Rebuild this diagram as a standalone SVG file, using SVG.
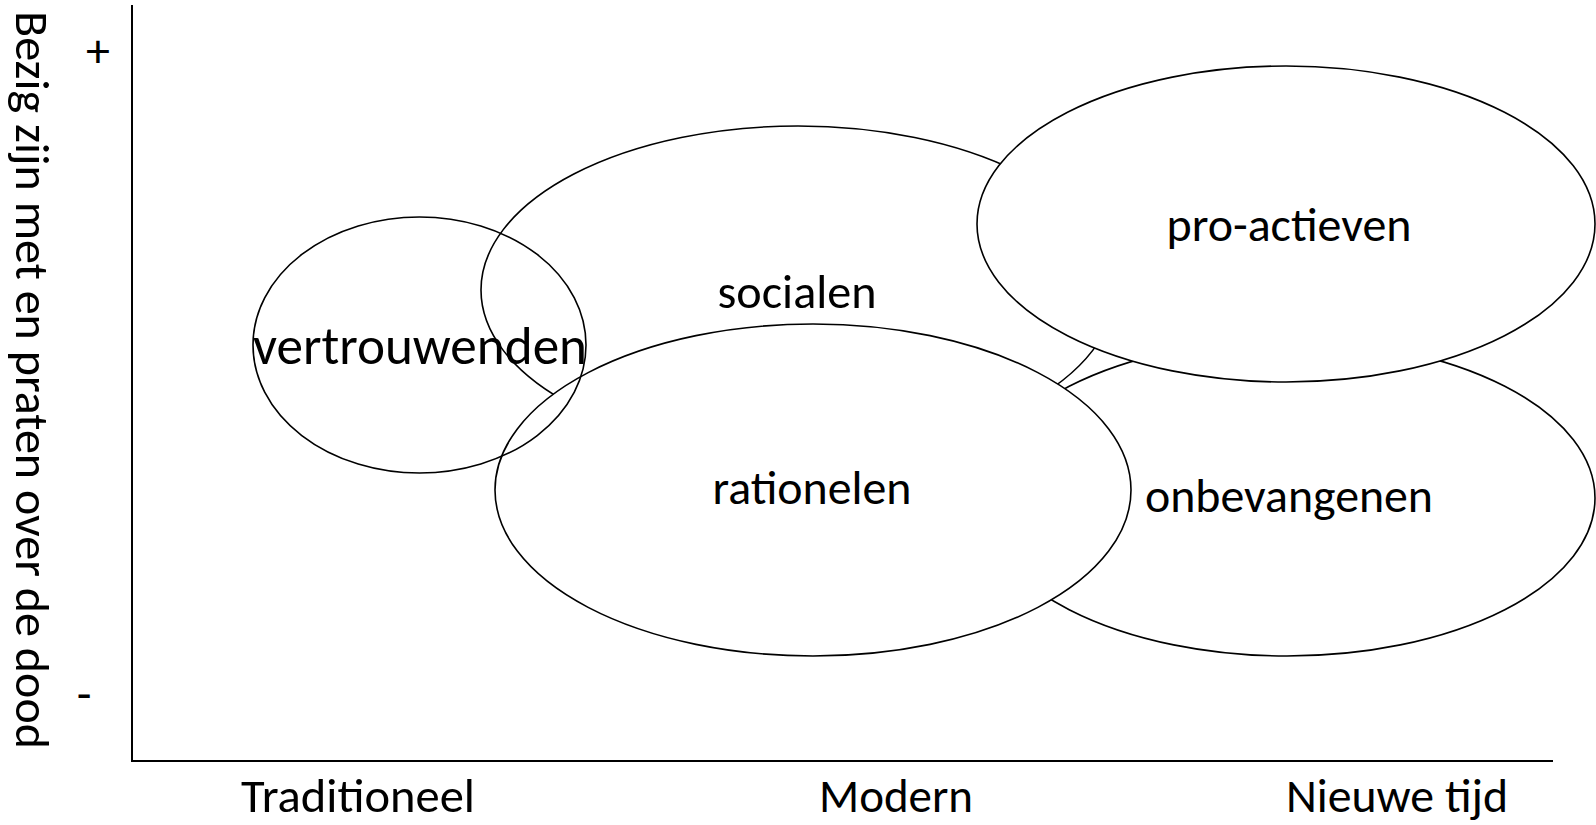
<svg xmlns="http://www.w3.org/2000/svg" width="1596" height="825" viewBox="0 0 1596 825">
<style>
.bg{fill:#ffffff}
.ell{fill:#ffffff;stroke:#000000;stroke-width:1.6}
.open{fill:none;stroke:#000000;stroke-width:1.6}
.axis{stroke:#000000;stroke-width:2;fill:none}
text{font-family:Carlito,Calibri,"Liberation Sans",Arial,sans-serif;font-size:48px;fill:#000000}
.mid{text-anchor:middle}
</style>
<rect class="bg" x="0" y="0" width="1596" height="825"/>
<g id="axes">
<line class="axis" x1="132" y1="5" x2="132" y2="761"/>
<line class="axis" x1="131" y1="761" x2="1553" y2="761"/>
</g>
<g id="axis-labels">
<text class="mid" x="98" y="67">+</text>
<text class="mid" x="84" y="710">-</text>
<text class="mid" transform="translate(16,380) rotate(90)" x="0" y="0" textLength="738" lengthAdjust="spacingAndGlyphs">Bezig zijn met en praten over de dood</text>
<text class="mid" x="358" y="812" textLength="234" lengthAdjust="spacingAndGlyphs">Traditioneel</text>
<text class="mid" x="896" y="812" textLength="154" lengthAdjust="spacingAndGlyphs">Modern</text>
<text class="mid" x="1397" y="812" textLength="222" lengthAdjust="spacingAndGlyphs">Nieuwe tijd</text>
</g>
<g id="socialen">
<ellipse class="ell" cx="798" cy="290" rx="317" ry="164"/>
<text class="mid" x="797" y="308" textLength="159" lengthAdjust="spacingAndGlyphs">socialen</text>
</g>
<g id="onbevangenen">
<ellipse class="ell" cx="1287" cy="498" rx="308" ry="158"/>
<text class="mid" x="1289" y="512" textLength="288" lengthAdjust="spacingAndGlyphs">onbevangenen</text>
</g>
<g id="rationelen">
<ellipse class="ell" cx="813" cy="490" rx="318" ry="166"/>
<text class="mid" x="812" y="504" textLength="199" lengthAdjust="spacingAndGlyphs">rationelen</text>
</g>
<g id="pro-actieven">
<ellipse class="ell" cx="1286" cy="224" rx="309" ry="158"/>
<text class="mid" x="1289" y="241" textLength="245" lengthAdjust="spacingAndGlyphs">pro-actieven</text>
</g>
<g id="vertrouwenden">
<ellipse class="open" cx="419.5" cy="345" rx="166.5" ry="128"/>
<text class="mid" x="420" y="364" style="font-size:53px" textLength="334" lengthAdjust="spacingAndGlyphs">vertrouwenden</text>
</g>
<g id="connectors"></g>
</svg>
